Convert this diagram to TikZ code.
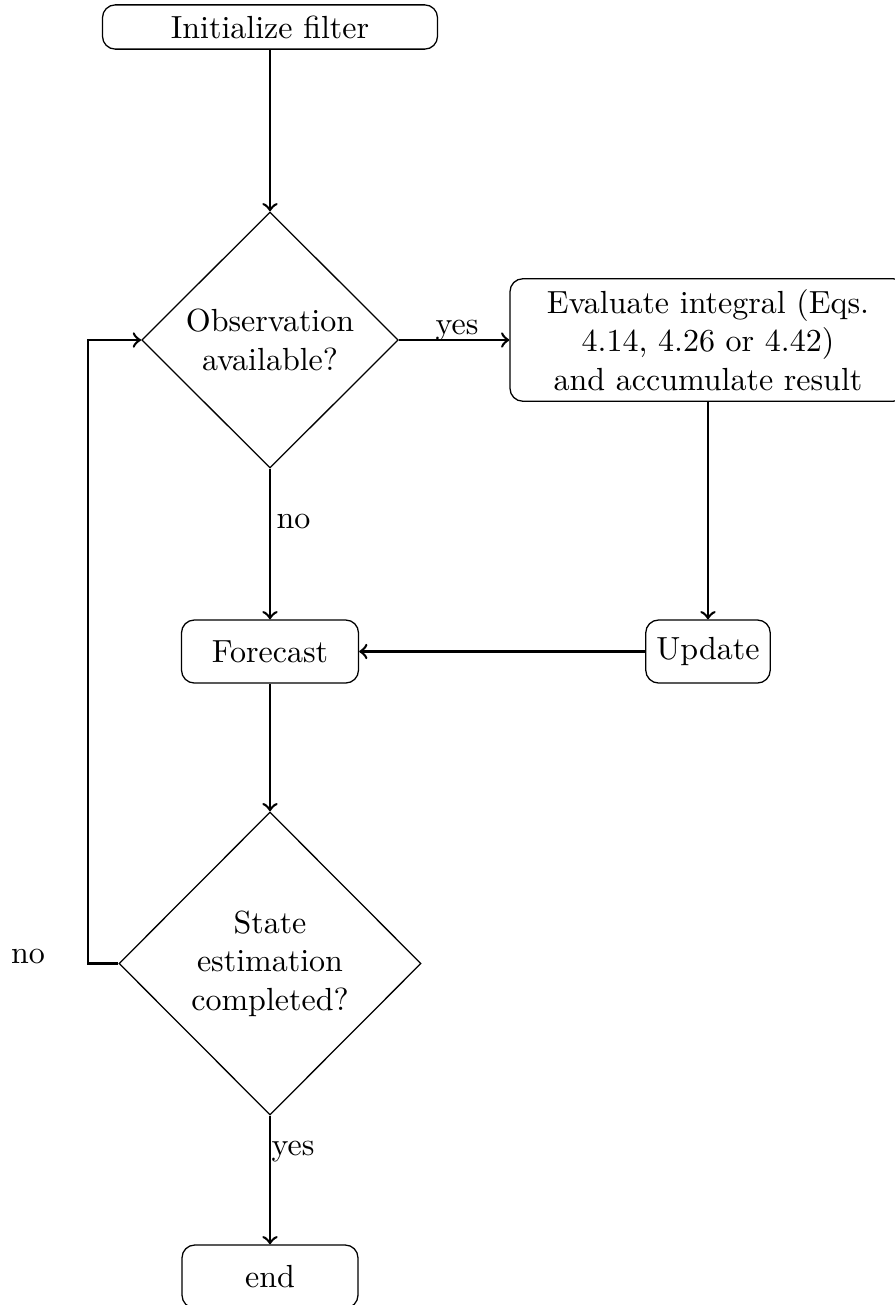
\documentclass[tikz,border=0pt]{standalone}
\usetikzlibrary{shapes.geometric}
\begin{document}
\begin{tikzpicture}[x=0.3125pt,y=-0.3125pt,
  block/.style={draw, rectangle, rounded corners=4pt, align=center, inner sep=0.3333em},
  decision/.style={draw, diamond, align=center, inner sep=0pt},
  link/.style={draw, thick, ->},
  tag/.style={inner sep=0pt, anchor=base}]
\useasboundingbox (0,0) rectangle (895,1305);

% process boxes and decisions
\node[block, minimum width=104.7pt, minimum height=13.75pt] (init) at (270,27) {Initialize filter};
\node[decision, minimum width=80.2pt, minimum height=80pt] (obs) at (270,340) {Observation\\available?};
\node[block, minimum width=123.75pt, minimum height=38.1pt] (eval) at (708,340)
  {Evaluate integral (Eqs.\\4.14, 4.26 or 4.42)\\and accumulate result};
\node[block, minimum height=19.7pt] (update) at (708,651.5) {Update};
\node[block, minimum width=55.3pt, minimum height=19.7pt] (forecast) at (270,651.5) {Forecast};
\node[decision, minimum width=94.4pt, minimum height=94.7pt] (done) at (270,963.5) {State\\estimation\\completed?};
\node[block, minimum width=55pt, minimum height=19.7pt] (stop) at (270,1276.5) {end};

% branch labels
\node[tag] (yesA) at (457,334) {yes};
\node[tag, anchor=base west] (noA) at (276,528) {no};
\node[tag, anchor=base west] (yesB) at (271,1155) {yes};
\node[tag] (noB) at (28,963) {no};

% connectors
\coordinate (turn) at (88,963.5);
\draw[link] (init) -- (obs);
\draw[link] (obs) -- (eval);
\draw[link] (eval) -- (update);
\draw[link] (update) -- (forecast);
\draw[link] (obs) -- (forecast);
\draw[link] (forecast) -- (done);
\draw[link] (done) -- (stop);
\draw[link] (done.west) -- (turn) |- (obs.west);
\end{tikzpicture}
\end{document}
